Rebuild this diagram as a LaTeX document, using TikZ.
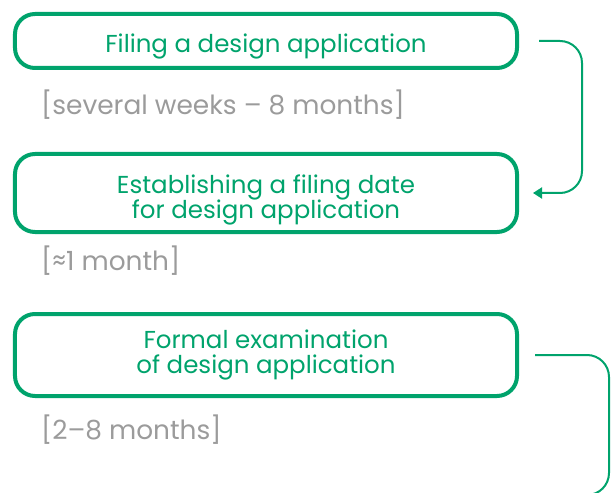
\documentclass[tikz,border=0pt]{standalone}
\usepackage{fontspec}
\setmainfont{Poppins}
\usetikzlibrary{positioning,arrows.meta}
\definecolor{stepgreen}{RGB}{0,163,108}
\definecolor{timegray}{RGB}{155,155,155}
\begin{document}
\begin{tikzpicture}[x=1bp,y=-1bp,
    stepbox/.style={draw=stepgreen,line width=4bp,rounded corners=20bp,minimum width=502bp,
      text=stepgreen,align=center,inner sep=0pt,text depth=0pt,font=\fontsize{24.6}{25.5}\selectfont},
    timelabel/.style={text=timegray,anchor=west,inner sep=0pt,font=\fontsize{26.5}{27}\selectfont},
    flow/.style={draw=stepgreen,line width=2bp,rounded corners=22bp}]
                \useasboundingbox (0,0) rectangle (611,493);
                % the three steps
                \node[stepbox,minimum height=54bp,text height=22.6bp] (filing) at (266,41) {Filing a design application};
                \node[stepbox,minimum height=78bp,text height=51.4bp] (date) at (266,193) {Establishing a filing date\\for design application};
                \node[stepbox,minimum height=82bp,text height=37.4bp] (exam) at (266,355) {Formal examination\\of design application};
                % durations
                \node[timelabel] (t1) at (41,105) {[several weeks – 8 months]};
                \node[timelabel] (t2) at (41,261) {[≈1 month]};
                \node[timelabel] (t3) at (41,430) {[2–8 months]};
                % connectors
                \coordinate (next) at (540,495);
                \draw[flow,-{Triangle[length=9bp,width=11bp]}] ([xshift=20bp]filing.east) -| ([xshift=63bp]date.east) -- ([xshift=14bp]date.east);
                \draw[flow] ([xshift=16bp]exam.east) -| (next -| 609,0) -- (next);
\end{tikzpicture}
\end{document}
